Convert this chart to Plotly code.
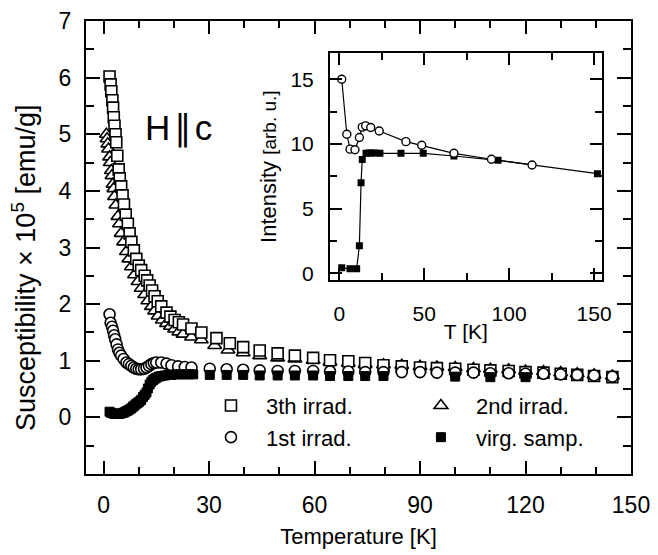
import plotly.graph_objects as go

# main panel: susceptibility vs temperature
t_3th = [1.7, 2.0, 2.2, 2.5, 2.7, 2.9, 3.1, 3.4, 3.6, 3.9, 4.3, 4.6, 5.0, 5.4, 5.8, 6.3, 6.9, 7.4,
         7.9, 8.6, 9.3, 10.0, 10.7, 11.7, 12.4, 13.1, 13.8, 14.5, 15.4, 16.4, 17.9, 19.0, 20.2,
         21.4, 22.6, 25.0, 27.8, 32.1, 35.9, 39.7, 44.4, 49.5, 54.4, 59.6, 64.4, 69.6, 74.4,
         79.6, 84.8, 90.0, 94.8, 100.0, 105.2, 110.0, 115.2, 120.0, 125.1, 130.0, 134.7, 139.5, 144.7]
chi_3th = [6.02, 5.88, 5.76, 5.6, 5.47, 5.3, 5.15, 5.0, 4.86, 4.62, 4.38, 4.22, 4.08, 3.92, 3.76,
           3.58, 3.42, 3.25, 3.1, 2.95, 2.8, 2.68, 2.6, 2.5, 2.42, 2.33, 2.24, 2.14, 2.05, 1.96,
           1.85, 1.78, 1.72, 1.68, 1.64, 1.57, 1.50, 1.40, 1.31, 1.24, 1.18, 1.13, 1.09, 1.05,
           1.01, 0.99, 0.96, 0.92, 0.90, 0.88, 0.87, 0.86, 0.84, 0.83, 0.82, 0.80, 0.79, 0.77,
           0.75, 0.73, 0.71]

t_2nd = [0.8, 1.0, 1.2, 1.4, 1.7, 1.9, 2.2, 2.4, 2.7, 2.9, 3.1, 3.5, 4.1, 4.5, 5.0, 5.7, 6.5, 7.2,
         7.9, 8.8, 9.8, 10.7, 11.7, 12.6, 13.6, 14.5, 15.5, 16.7, 17.9, 19.0, 20.2, 21.4, 22.6,
         25.0, 27.8, 31.6, 35.4, 39.7, 44.4, 49.5, 54.4, 59.6, 64.4, 69.6, 74.4, 79.6, 84.8,
         90.0, 94.8, 100.0, 105.2, 110.0, 115.2, 120.0, 125.1, 130.0, 134.7, 139.5, 144.7]
chi_2nd = [5.0, 4.92, 4.83, 4.74, 4.6, 4.5, 4.36, 4.27, 4.12, 4.04, 3.9, 3.75, 3.55, 3.42, 3.25,
           3.1, 2.93, 2.8, 2.66, 2.52, 2.4, 2.28, 2.17, 2.06, 1.96, 1.88, 1.79, 1.72, 1.66, 1.61,
           1.56, 1.51, 1.47, 1.42, 1.37, 1.27, 1.19, 1.14, 1.09, 1.05, 1.03, 1.01, 0.98, 0.96,
           0.94, 0.93, 0.92, 0.90, 0.89, 0.88, 0.86, 0.85, 0.84, 0.82, 0.81, 0.79, 0.77, 0.75, 0.73]

t_1st = [1.7, 2.0, 2.4, 2.7, 3.0, 3.3, 3.7, 4.1, 4.5, 5.0, 5.7, 6.5, 7.2, 7.9, 8.6, 9.3, 10.0,
         10.7, 11.5, 12.2, 12.9, 13.6, 14.3, 15.0, 16.4, 17.9, 19.3, 21.2, 23.1, 25.0, 30.2,
         35.0, 39.7, 44.4, 49.5, 54.4, 59.6, 64.4, 69.6, 74.4, 79.6, 84.8, 90.0, 94.8, 100.0,
         105.2, 110.0, 115.2, 120.0, 125.1, 130.0, 134.7, 139.5, 144.7]
chi_1st = [1.82, 1.67, 1.6, 1.53, 1.45, 1.38, 1.29, 1.2, 1.14, 1.09, 1.03, 0.97, 0.94, 0.91, 0.88,
           0.86, 0.85, 0.85, 0.86, 0.88, 0.91, 0.94, 0.96, 0.97, 0.97, 0.95, 0.92, 0.90, 0.89,
           0.88, 0.86, 0.85, 0.84, 0.83, 0.82, 0.82, 0.82, 0.81, 0.81, 0.80, 0.80, 0.80, 0.80,
           0.79, 0.79, 0.79, 0.78, 0.78, 0.77, 0.77, 0.76, 0.75, 0.74, 0.72]

t_virg = [1.7, 2.2, 2.7, 3.1, 3.6, 4.1, 4.5, 5.0, 5.5, 6.0, 6.5, 6.9, 7.4, 7.9, 8.4, 8.8, 9.3, 9.8,
          10.2, 10.7, 11.2, 11.7, 12.2, 12.6, 13.1, 13.6, 14.1, 14.5, 15.0, 15.7, 16.4, 17.4,
          18.4, 19.3, 20.5, 21.7, 23.0, 24.3, 25.5, 30.2, 35.0, 39.7, 44.4, 49.5, 54.4, 59.6,
          64.4, 69.6, 74.4, 79.6, 100.0, 110.0, 120.0]
chi_virg = [0.10, 0.08, 0.07, 0.06, 0.06, 0.06, 0.06, 0.07, 0.08, 0.09, 0.11, 0.12, 0.14, 0.16,
            0.19, 0.21, 0.24, 0.26, 0.28, 0.31, 0.36, 0.40, 0.44, 0.51, 0.58, 0.63, 0.66, 0.68,
            0.70, 0.72, 0.73, 0.74, 0.75, 0.75, 0.76, 0.76, 0.76, 0.76, 0.76, 0.75, 0.75, 0.75,
            0.74, 0.74, 0.74, 0.74, 0.73, 0.73, 0.73, 0.73, 0.72, 0.71, 0.71]

# inset: intensity vs T
t_in_1st = [1.4, 4.4, 6.3, 9.2, 11.8, 13.5, 15.5, 18.5, 23.5, 39.2, 48.5, 67.5, 89.6, 113.5]
int_1st = [15.0, 10.75, 9.6, 9.55, 10.5, 11.3, 11.4, 11.27, 11.0, 10.18, 9.9, 9.28, 8.82, 8.38]
t_in_virg = [1.4, 6.3, 10.2, 11.8, 12.8, 13.5, 15.7, 17.5, 19.0, 21.0, 23.9, 36.3, 49.4, 67.5, 93.5, 152.0]
int_virg = [0.44, 0.36, 0.36, 2.15, 7.0, 8.8, 9.28, 9.3, 9.3, 9.3, 9.28, 9.28, 9.28, 9.07, 8.74, 7.71]

FONT = "Liberation Sans, Arial, sans-serif"

fig = go.Figure()

# draw order: triangles, squares, circles, filled squares
fig.add_trace(go.Scatter(x=t_2nd, y=chi_2nd, mode='markers', name='2nd irrad.', legend='legend2',
                         marker=dict(symbol='triangle-up', size=12, color='white',
                                     line=dict(color='black', width=1.6))))
fig.add_trace(go.Scatter(x=t_3th, y=chi_3th, mode='markers', name='3th irrad.', legend='legend',
                         marker=dict(symbol='square', size=11, color='white',
                                     line=dict(color='black', width=1.6))))
fig.add_trace(go.Scatter(x=t_1st, y=chi_1st, mode='markers', name='1st irrad.', legend='legend',
                         marker=dict(symbol='circle', size=11, color='white',
                                     line=dict(color='black', width=1.6))))
fig.add_trace(go.Scatter(x=t_virg, y=chi_virg, mode='markers', name='virg. samp.', legend='legend2',
                         marker=dict(symbol='square', size=9, color='black',
                                     line=dict(color='black', width=1))))

# inset traces
fig.add_trace(go.Scatter(x=t_in_virg, y=int_virg, mode='lines+markers', xaxis='x2', yaxis='y2',
                         showlegend=False, line=dict(color='black', width=1.2),
                         marker=dict(symbol='square', size=7, color='black')))
fig.add_trace(go.Scatter(x=t_in_1st, y=int_1st, mode='lines+markers', xaxis='x2', yaxis='y2',
                         showlegend=False, line=dict(color='black', width=1.2),
                         marker=dict(symbol='circle', size=8, color='white',
                                     line=dict(color='black', width=1.4))))

axis_common = dict(showline=True, linecolor='black', linewidth=2, mirror='ticks',
                   ticks='inside', tickcolor='black', tickwidth=2, showgrid=False,
                   zeroline=False, automargin=False)

# page body adds an 8px offset, so the figure is 8px smaller than the window
fig.update_layout(
    width=650, height=547,
    margin=dict(l=78, r=27, t=13, b=81, autoexpand=False),
    paper_bgcolor='white', plot_bgcolor='white',
    font=dict(family=FONT, color='black', size=22),
    xaxis=dict(axis_common, range=[-5, 150], tickvals=[0, 30, 60, 90, 120, 150], ticklen=13,
               minor=dict(tickvals=[10, 20, 40, 50, 70, 80, 100, 110, 130, 140], ticklen=7,
                          tickwidth=2, ticks='inside', tickcolor='black'),
               tickfont=dict(size=23), ticklabelstandoff=9,
               title=dict(text='Temperature [K]', font=dict(size=22), standoff=12)),
    yaxis=dict(axis_common, range=[-1, 7], tickvals=[0, 1, 2, 3, 4, 5, 6, 7], ticklen=14,
               minor=dict(tickvals=[-0.5, 0.5, 1.5, 2.5, 3.5, 4.5, 5.5, 6.5], ticklen=8,
                          tickwidth=2, ticks='inside', tickcolor='black'),
               tickfont=dict(size=23), ticklabelstandoff=8),
    xaxis2=dict(axis_common, domain=[0.4477, 0.9462], anchor='y2', range=[-5.5, 154.5],
                tickvals=[0, 50, 100, 150], ticklen=12,
                minor=dict(tickvals=[25, 75, 125], ticklen=7, tickwidth=2, ticks='inside',
                           tickcolor='black'),
                tickfont=dict(size=21), ticklabelstandoff=14,
                title=dict(text='T [K]', font=dict(size=21), standoff=0)),
    yaxis2=dict(axis_common, domain=[0.4283, 0.9287], anchor='x2', range=[-0.5, 17],
                tickvals=[0, 5, 10, 15], ticklen=12,
                minor=dict(tickvals=[2.5, 7.5, 12.5], ticklen=7, tickwidth=2, ticks='inside',
                           tickcolor='black'),
                tickfont=dict(size=21), ticklabelstandoff=10,
                title=dict(text='Intensity <span style="font-size:19px">[arb. u.]</span>',
                           font=dict(size=22), standoff=8)),
    legend=dict(x=0.2018, y=0.197, xanchor='left', yanchor='top', bgcolor='rgba(0,0,0,0)',
                font=dict(size=22), tracegroupgap=0, itemwidth=60),
    legend2=dict(x=0.587, y=0.197, xanchor='left', yanchor='top', bgcolor='rgba(0,0,0,0)',
                 font=dict(size=22), tracegroupgap=0, itemwidth=60),
    annotations=[
        dict(text='H<span style="font-family:DejaVu Sans">\u200a∥\u200a</span>c', x=0.169, y=0.764,
             xref='paper', yref='paper', xanchor='center', yanchor='middle',
             showarrow=False, font=dict(size=35)),
        dict(text='Susceptibility × 10<sup>5</sup> [emu/g]', x=-0.1138, y=0.4547,
             xref='paper', yref='paper', xanchor='center', yanchor='middle',
             showarrow=False, textangle=-90, font=dict(size=27)),
    ],
)

fig.write_html("out.html")
